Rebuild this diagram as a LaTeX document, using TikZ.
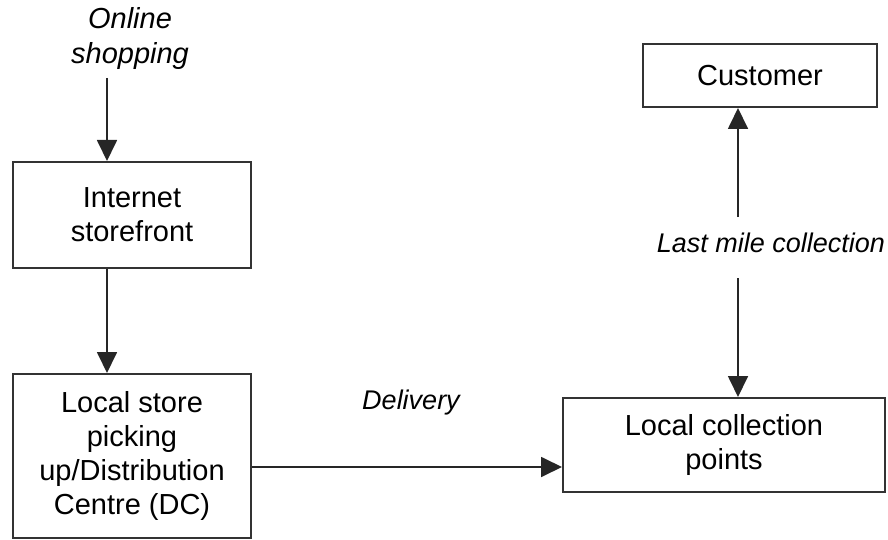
\documentclass[tikz,border=0pt]{standalone}
\usepackage{fontspec}
\setmainfont{Liberation Sans}
\usetikzlibrary{arrows.meta}
\begin{document}
\begin{tikzpicture}[x=1pt,y=-1pt,
  box/.style={draw=black!80,line width=2pt,minimum width=#1,inner sep=0pt,align=center,
    font=\fontsize{29}{34}\selectfont},
  lbl/.style={font=\fontsize{27}{34}\selectfont\itshape,align=center,inner sep=0pt},
  conn/.style={draw=black!85,line width=1.8pt,-{Triangle[length=21pt,width=20pt]}}]
\useasboundingbox (0,0) rectangle (888,540);
\node[lbl,font=\fontsize{29}{35}\selectfont\itshape] (online) at (130,39) {Online\\shopping};
\node[box=238pt,minimum height=106pt] (internet) at (132,215) {Internet\\storefront};
\node[box=238pt,minimum height=164pt] (store) at (132,456) {Local store\\picking\\up/Distribution\\Centre (DC)};
\node[box=322pt,minimum height=94pt] (collect) at (724,445) {Local collection\\points};
\node[box=234pt,minimum height=63pt] (customer) at (760,75.5) {Customer};
\node[lbl] (delivery) at (411,403) {Delivery};
\node[lbl] (lastmile) at (771,243) {Last mile collection};
\coordinate (ostart) at (107,78);
\coordinate (lmtop) at (738,217);
\coordinate (lmbot) at (738,278);
\draw[conn] (ostart) -- (ostart |- internet.north);
\draw[conn] (internet.south -| ostart) -- (store.north -| ostart);
\draw[conn] (store.east |- 0,467) -- (collect.west |- 0,467);
\draw[conn] (lmbot) -- (lmbot |- collect.north);
\draw[conn] (lmtop) -- (lmtop |- customer.south);
\end{tikzpicture}
\end{document}
